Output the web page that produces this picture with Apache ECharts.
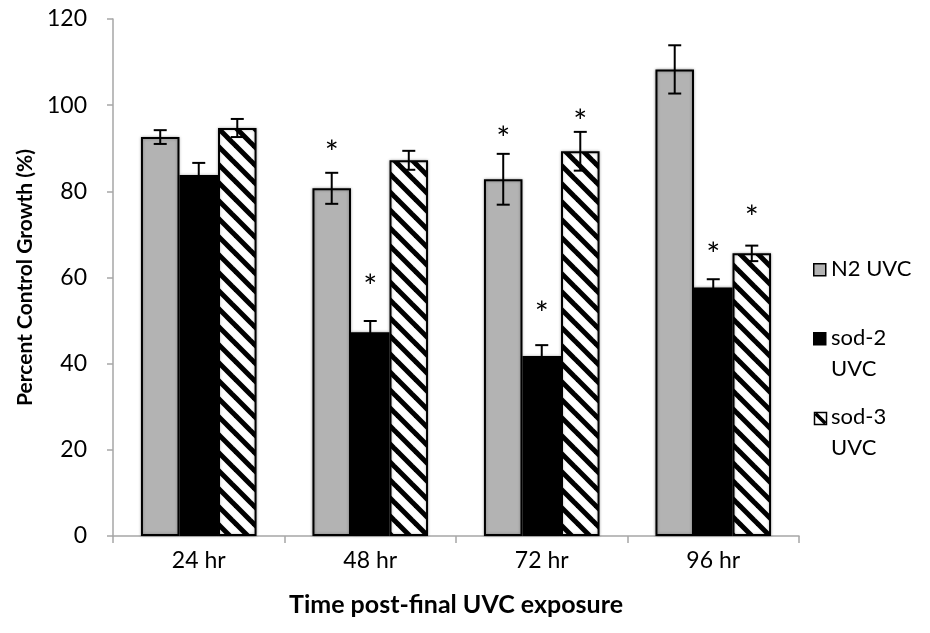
<!DOCTYPE html>
<html>
<head>
<meta charset="utf-8">
<script src="https://cdn.jsdelivr.net/npm/echarts@6/dist/echarts.min.js"></script>
<style>
  html, body { margin: 0; padding: 0; background: #fff; }
  #chart { width: 930px; height: 633px; }
</style>
</head>
<body>
<div id="chart"></div>
<script>
// Time points after the final UVC exposure
const categories = ['24 hr', '48 hr', '72 hr', '96 hr'];

// Mean percent of control growth per strain
const n2Values   = [92.6, 80.7, 82.8, 108.3];
const sod2Values = [83.8, 47.3, 41.8, 57.7];
const sod3Values = [94.7, 87.2, 89.3, 65.6];

// Error bar half-lengths
const n2Err   = [1.6, 3.6, 5.9, 5.6];
const sod2Err = [2.8, 2.6, 2.5, 1.9];
const sod3Err = [2.1, 2.2, 4.5, 1.8];

// Heights (in % units) of the significance asterisks; null = not significant
const n2Sig   = [null, 90.6, 94.0, null];
const sod2Sig = [null, 59.6, 53.2, 67.1];
const sod3Sig = [null, null, 97.9, 75.6];

const yTicks = [0, 20, 40, 60, 80, 100, 120];
const seriesNames = ['N2 UVC', 'sod-2\nUVC', 'sod-3\nUVC'];

const FONT = 'Lato, "Liberation Sans", sans-serif';
const GAP = 0.326;

// Diagonal hatch fill for sod-3
function makeHatch(size, width) {
  const c = document.createElement('canvas');
  c.width = size; c.height = size;
  const g = c.getContext('2d');
  g.fillStyle = '#fff';
  g.fillRect(0, 0, size, size);
  g.strokeStyle = '#000';
  g.lineWidth = width;
  for (const o of [-size, 0, size]) {
    g.beginPath();
    g.moveTo(o - 4, -4);
    g.lineTo(o + size + 4, size + 4);
    g.stroke();
  }
  return c;
}
const hatch = makeHatch(18, 5);

const barStyle = {
  borderColor: '#000',
  borderWidth: 2,
  shadowBlur: 3,
  shadowColor: 'rgba(0,0,0,0.3)'
};

const chart = echarts.init(document.getElementById('chart'));

const groups = [
  { vals: n2Values,   err: n2Err,   sig: n2Sig },
  { vals: sod2Values, err: sod2Err, sig: sod2Sig },
  { vals: sod3Values, err: sod3Err, sig: sod3Sig }
];

const errData = [];
const sigData = [];
groups.forEach((g, si) => {
  g.vals.forEach((v, ci) => {
    errData.push([ci, si, v - g.err[ci], v + g.err[ci], v]);
    if (g.sig[ci] != null) sigData.push([ci, si, g.sig[ci]]);
  });
});

function barOffset(api, si) {
  const band = api.size([1, 0])[0];
  const bw = band * (1 - GAP) / 3;
  return (si - 1) * bw;
}

const legendText = { fontFamily: FONT, fontSize: 22, fill: '#000', lineHeight: 31 };

chart.setOption({
  animation: false,
  backgroundColor: '#fff',
  grid: { left: 113, right: 131, top: 19, bottom: 97 },
  xAxis: {
    type: 'category',
    data: categories,
    name: 'Time post-final UVC exposure',
    nameLocation: 'middle',
    nameGap: 56,
    nameTextStyle: { fontFamily: FONT, fontSize: 25, fontWeight: 'bold', color: '#000' },
    axisLine: { lineStyle: { color: '#a6a6a6', width: 1.5 } },
    axisTick: { show: true, length: 7, lineStyle: { color: '#a6a6a6', width: 1.5 } },
    axisLabel: { fontFamily: FONT, fontSize: 23, color: '#000', margin: 13 }
  },
  yAxis: {
    type: 'value',
    min: 0, max: 120, interval: 20,
    name: 'Percent Control Growth (%)',
    nameLocation: 'middle',
    nameGap: 76,
    nameTextStyle: { fontFamily: FONT, fontSize: 21, fontWeight: 'bold', color: '#000' },
    axisLine: { show: true, lineStyle: { color: '#a6a6a6', width: 1.5 } },
    axisTick: { show: true, length: 6, lineStyle: { color: '#a6a6a6', width: 1.5 } },
    splitLine: { show: false },
    axisLabel: {
      fontFamily: FONT, fontSize: 23, color: '#000', margin: 26,
      formatter: v => (yTicks.includes(v) ? String(v) : '')
    }
  },
  series: [
    { name: seriesNames[0], type: 'bar', data: n2Values, barGap: '0%', barCategoryGap: (GAP * 100) + '%',
      itemStyle: Object.assign({ color: '#b3b3b3' }, barStyle) },
    { name: seriesNames[1], type: 'bar', data: sod2Values, barGap: '0%', barCategoryGap: (GAP * 100) + '%',
      itemStyle: Object.assign({ color: '#000' }, barStyle) },
    { name: seriesNames[2], type: 'bar', data: sod3Values, barGap: '0%', barCategoryGap: (GAP * 100) + '%',
      itemStyle: Object.assign({ color: { image: hatch, repeat: 'repeat' } }, barStyle) },
    {
      type: 'custom',
      z: 10,
      data: errData,
      encode: { x: 0, y: [2, 3] },
      renderItem: function (params, api) {
        const ci = api.value(0), si = api.value(1);
        const off = barOffset(api, si);
        const lo = api.coord([ci, api.value(2)]);
        const hi = api.coord([ci, api.value(3)]);
        const x = lo[0] + off;
        const cap = 6.5;
        const st = { stroke: '#000', lineWidth: 2 };
        return {
          type: 'group',
          children: [
            { type: 'line', shape: { x1: x, y1: lo[1], x2: x, y2: hi[1] }, style: st },
            { type: 'line', shape: { x1: x - cap, y1: lo[1], x2: x + cap, y2: lo[1] }, style: st },
            { type: 'line', shape: { x1: x - cap, y1: hi[1], x2: x + cap, y2: hi[1] }, style: st }
          ]
        };
      }
    },
    {
      type: 'custom',
      z: 11,
      data: sigData,
      encode: { x: 0, y: 2 },
      renderItem: function (params, api) {
        const ci = api.value(0), si = api.value(1);
        const p = api.coord([ci, api.value(2)]);
        return {
          type: 'text',
          x: p[0] + barOffset(api, si),
          y: p[1] + 8,
          style: { text: '*', fontFamily: FONT, fontSize: 33, fill: '#000', align: 'center', verticalAlign: 'middle' }
        };
      }
    }
  ],
  graphic: [
    // legend: N2 UVC
    { type: 'rect', left: 813, top: 263, shape: { width: 12, height: 12 },
      style: { fill: '#b3b3b3', stroke: '#000', lineWidth: 1.5 } },
    { type: 'text', left: 831, top: 253, style: Object.assign({ text: 'N2 UVC' }, legendText) },
    // legend: sod-2 UVC
    { type: 'rect', left: 813, top: 332, shape: { width: 12, height: 12 },
      style: { fill: '#000', stroke: '#000', lineWidth: 1.5 } },
    { type: 'text', left: 831, top: 322, style: Object.assign({ text: 'sod-2\nUVC' }, legendText) },
    // legend: sod-3 UVC
    { type: 'group', left: 813, top: 411, children: [
      { type: 'rect', shape: { x: 0, y: 0, width: 12, height: 12 }, style: { fill: '#fff', stroke: '#000', lineWidth: 1.5 } },
      { type: 'line', shape: { x1: 1, y1: 1, x2: 11, y2: 11 }, style: { stroke: '#000', lineWidth: 3.5 } }
    ] },
    { type: 'text', left: 831, top: 401, style: Object.assign({ text: 'sod-3\nUVC' }, legendText) }
  ]
});
</script>
</body>
</html>
